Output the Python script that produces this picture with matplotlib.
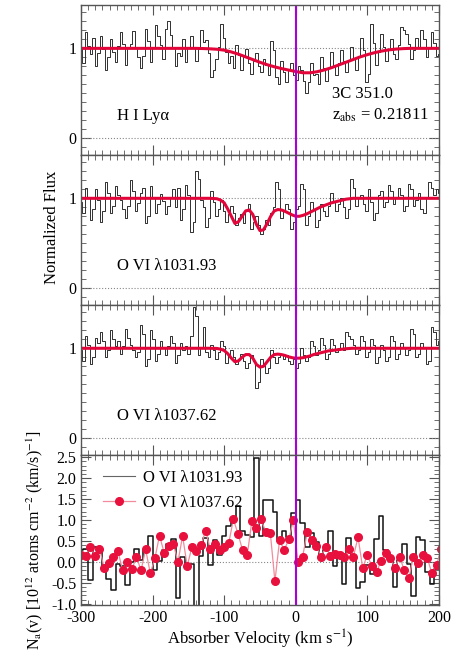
import numpy as np
import matplotlib
matplotlib.use("Agg")
from matplotlib import pyplot as plt
from matplotlib.ticker import MultipleLocator, FixedLocator, FormatStrFormatter

plt.rcParams['font.family'] = ['Liberation Serif', 'DejaVu Serif']
plt.rcParams['mathtext.fontset'] = 'stix'
plt.rcParams['axes.unicode_minus'] = False

# 归一化流量谱 (3.5 km/s 一格, 从 -300 开始)
flux_v0, flux_dv = -300.0, 3.5
flux_hi = [1.00, 0.84, 1.18, 1.03, 0.94, 1.12, 0.80, 0.95, 1.14, 0.99, 0.76, 0.90, 1.10, 0.96, 0.85, 1.03, 1.18, 1.05, 0.82, 1.00,
           1.05, 1.19, 1.00, 0.90, 0.78, 0.92, 1.22, 1.08, 0.85, 1.00, 1.26, 1.14, 1.04, 0.88, 1.22, 1.30, 1.15, 1.02, 0.80, 0.95,
           0.92, 1.10, 0.85, 1.00, 1.14, 1.02, 0.86, 0.99, 1.20, 1.07, 1.09, 0.95, 0.68, 0.76, 0.88, 1.02, 1.27, 1.12, 0.96, 0.84,
           0.92, 0.78, 1.04, 0.93, 0.76, 0.90, 0.99, 0.84, 0.72, 0.86, 0.95, 0.80, 0.74, 0.88, 0.82, 0.70, 1.08, 0.98, 0.68, 0.60,
           0.86, 0.74, 0.62, 0.76, 0.84, 0.70, 0.65, 0.80, 0.76, 0.64, 0.50, 0.62, 0.84, 0.70, 0.72, 0.60, 0.90, 0.78, 0.64, 0.78,
           0.96, 0.80, 0.70, 0.84, 0.98, 0.86, 0.74, 0.86, 1.02, 0.88, 0.76, 0.92, 1.12, 0.98, 0.63, 0.72, 1.27, 1.06, 0.82, 0.96,
           1.16, 1.02, 0.86, 0.98, 1.10, 0.94, 0.88, 1.04, 1.24, 1.20, 1.16, 1.05, 0.88, 0.98, 1.12, 1.02, 1.21, 1.10, 0.90, 1.00,
           1.18, 1.06, 0.92, 0.94]
flux_1032 = [0.96, 0.84, 1.12, 1.00, 0.76, 0.88, 1.10, 0.98, 0.74, 0.86, 1.18, 1.06, 0.84, 0.92, 1.14, 1.04, 0.98, 0.88, 0.78, 0.92,
             1.20, 1.08, 0.86, 0.95, 1.06, 1.12, 0.72, 0.80, 1.14, 1.02, 0.84, 0.94, 1.05, 0.97, 0.82, 0.92, 1.02, 1.10, 0.90, 1.12,
             0.76, 0.88, 1.15, 1.04, 0.62, 0.74, 1.30, 1.22, 0.98, 0.90, 0.68, 0.78, 1.08, 0.96, 0.80, 0.88, 0.98, 0.86, 0.74, 0.82,
             0.92, 0.84, 0.70, 0.78, 0.82, 0.72, 0.86, 0.94, 0.66, 0.74, 0.80, 0.70, 0.60, 0.66, 0.76, 0.70, 0.84, 0.90, 1.18, 1.10,
             0.78, 0.86, 0.94, 0.88, 0.66, 0.74, 0.88, 0.92, 1.16, 1.10, 0.70, 0.80, 0.96, 0.88, 0.68, 0.76, 0.94, 0.86, 0.80, 0.92,
             1.06, 0.96, 0.86, 0.94, 1.00, 0.90, 0.78, 0.88, 1.22, 1.12, 0.92, 1.00, 1.04, 0.94, 0.86, 1.10, 0.96, 0.76, 0.84, 1.04,
             1.08, 0.90, 0.96, 1.15, 1.08, 0.94, 1.00, 1.12, 1.04, 0.86, 0.92, 1.16, 1.10, 0.92, 0.98, 1.06, 0.88, 0.84, 1.00, 1.18,
             1.12, 1.04, 1.10, 1.06]
flux_1038 = [0.98, 0.86, 1.14, 1.04, 0.82, 0.90, 1.12, 1.06, 1.18, 1.08, 0.90, 0.98, 1.20, 1.10, 1.02, 1.08, 0.94, 1.02, 1.22, 1.12,
             1.04, 0.98, 0.90, 0.96, 1.26, 1.16, 0.80, 0.88, 1.20, 1.10, 0.86, 0.94, 1.08, 1.00, 0.92, 1.02, 1.14, 1.06, 0.84, 0.92,
             1.06, 0.98, 1.02, 0.94, 1.14, 1.46, 1.36, 0.92, 1.00, 1.24, 0.96, 0.90, 1.04, 0.98, 0.88, 0.96, 1.08, 1.02, 0.84, 0.92,
             0.98, 0.90, 0.82, 0.88, 0.94, 0.86, 0.78, 0.84, 0.92, 0.86, 0.56, 0.62, 0.88, 0.82, 0.72, 0.78, 0.98, 0.90, 0.84, 0.90,
             0.94, 0.88, 0.92, 0.86, 0.82, 0.88, 0.78, 0.84, 1.00, 0.92, 0.86, 0.90, 1.08, 1.02, 0.92, 0.98, 1.12, 1.04, 0.88, 0.94,
             1.10, 1.04, 0.96, 1.00, 1.06, 0.98, 1.18, 1.14, 1.10, 1.04, 0.94, 0.98, 1.14, 1.08, 0.90, 0.96, 1.10, 1.04, 0.84, 0.90,
             1.04, 0.98, 0.86, 0.90, 1.14, 1.08, 0.88, 0.94, 1.06, 1.00, 0.92, 0.98, 1.22, 1.16, 0.90, 0.94, 1.06, 1.00, 0.82, 0.86,
             1.24, 1.18, 1.04, 1.08]

# 拟合曲线 (读图取点)
fit_hi_v = list(range(-300, 201, 10))
fit_hi = [1.0] * 17 + [0.998, 0.995, 0.99, 0.98, 0.96, 0.935, 0.905, 0.875, 0.845,
                       0.818, 0.795, 0.775, 0.758, 0.742, 0.728, 0.728, 0.74, 0.76,
                       0.785, 0.815, 0.845, 0.875, 0.905, 0.93, 0.952, 0.97, 0.983,
                       0.992, 0.997] + [1.0] * 5
fit_ovi_v = [-300] + list(range(-120, 81, 5)) + [200]
fit_1032 = [1.0, 1.0, 0.998, 0.995, 0.98, 0.95, 0.88, 0.80, 0.72, 0.74, 0.80, 0.86,
            0.87, 0.82, 0.71, 0.64, 0.65, 0.72, 0.80, 0.86, 0.875, 0.87, 0.855, 0.835,
            0.815, 0.80, 0.80, 0.81, 0.825, 0.845, 0.865, 0.885, 0.905, 0.92, 0.935,
            0.95, 0.96, 0.97, 0.98, 0.99, 0.995, 1.0, 1.0]
fit_1038 = [1.0, 1.0, 0.999, 0.998, 0.99, 0.975, 0.94, 0.89, 0.85, 0.86, 0.90, 0.93,
            0.93, 0.89, 0.82, 0.79, 0.80, 0.85, 0.90, 0.93, 0.935, 0.93, 0.92, 0.905,
            0.895, 0.89, 0.89, 0.895, 0.905, 0.915, 0.93, 0.94, 0.95, 0.96, 0.97,
            0.975, 0.98, 0.985, 0.99, 0.995, 0.998, 1.0, 1.0]

# 视柱密度 Na(v), 单位 10^12 atoms cm^-2 (km/s)^-1
na_v0, na_dv = -300.0, 6.45
na_1032 = [0.28, 0.30, -0.43, 0.36, 0.28, -0.10, -0.41, -0.66, -0.06, -0.10, -0.54,
           0.00, 0.32, 0.05, 0.28, 0.63, -0.20, 0.02, 0.28, 0.44, 0.55, -0.87, 0.13,
           -0.10, -0.05, -1.20, 0.15, 0.58, -0.08, 0.52, 0.17, 0.63, 0.86, 1.05, 1.34,
           0.75, 0.65, 0.60, 2.48, 0.63, 1.48, 1.48, 1.20, 0.52, 0.75, 0.60, 1.17,
           1.48, 0.94, 0.36, 0.68, 0.47, 0.12, 0.28, 0.75, -0.10, 0.18, -0.52, 0.58,
           0.13, -0.62, -0.48, -0.08, -0.29, 0.55, 1.09, 0.28, 0.13, -0.60, 0.05,
           0.42, -0.06, -0.82, 0.60, 0.52, -0.25, -0.52, -0.18, -0.18]
na_1038 = [0.17, 0.15, 0.36, 0.15, 0.32, -0.14, -0.02, 0.12, 0.25, -0.19,
           0.01, -0.18, 0.12, -0.20, 0.30, -0.27, 0.09, 0.63, 0.22, 0.38,
           0.42, 0.01, 0.62, -0.10, 0.35, 0.27, 0.40, 0.75, 0.30, 0.44,
           0.28, 0.36, 0.45, 1.02, 0.67, 0.28, 0.16, 0.98, 0.81, 1.02,
           0.72, 0.69, -0.46, 0.52, 0.28, 0.54, 1.00, 0.00, 0.13, 0.71,
           0.53, 0.38, 0.12, 0.36, 0.15, 0.19, 0.16, 0.13, 0.30, 0.13,
           0.59, -0.14, 0.16, -0.10, -0.25, 0.03, 0.22, 0.09, -0.14, 0.12,
           -0.19, -0.39, 0.13, -0.02, 0.16, 0.09, -0.27, -0.07, 0.31]

line_labels = ["H I Ly\u03b1", "O VI \u03bb1031.93", "O VI \u03bb1037.62"]

fv = flux_v0 + flux_dv * np.arange(len(flux_hi))
nv = na_v0 + na_dv * np.arange(len(na_1032))

fit_red = '#E3063A'
vline_col = '#A800D8'
hist_col = '#303030'
frame_col = '#555555'

fig = plt.figure(figsize=(4.63, 6.57), dpi=100)
gs = fig.add_gridspec(4, 1, left=0.175, right=0.948, bottom=0.079, top=0.992, hspace=0)
axes = [fig.add_subplot(gs[i]) for i in range(4)]


def style_axis(ax):
    ax.set_xlim(-300, 200)
    ax.xaxis.set_major_locator(MultipleLocator(100))
    ax.xaxis.set_minor_locator(MultipleLocator(10))
    ax.tick_params(which='both', direction='in', top=True, right=True,
                   color=frame_col, labelsize=11.5)
    ax.tick_params(which='major', length=7, width=0.8)
    ax.tick_params(which='minor', length=3.5, width=0.6)
    for sp in ax.spines.values():
        sp.set_color(frame_col)
        sp.set_linewidth(1.0)


flux_sets = [(flux_hi, fit_hi_v, fit_hi), (flux_1032, fit_ovi_v, fit_1032),
             (flux_1038, fit_ovi_v, fit_1038)]
for i, (fl, fitv, fit) in enumerate(flux_sets):
    ax = axes[i]
    style_axis(ax)
    ax.axhline(1, color='#888888', ls=':', lw=0.8)
    ax.axhline(0, color='#888888', ls=':', lw=0.8)
    ax.step(fv, fl, where='mid', color=hist_col, lw=0.7)
    ax.plot(fitv, fit, color=fit_red, lw=2.2)
    ax.axvline(0, color=vline_col, lw=1.5)
    ax.set_ylim(-0.19, 1.48)
    ax.yaxis.set_major_locator(FixedLocator([0, 1]))
    ax.yaxis.set_minor_locator(MultipleLocator(0.1))
    ax.set_yticklabels(['0', '1'])
    ax.tick_params(labelbottom=False)
    ax.text(-250, 0.25, line_labels[i], fontsize=12, va='center')

axes[0].text(50, 0.49, "3C 351.0", fontsize=12, ha='left', va='center')
axes[0].text(50, 0.25, "z$_{\\rm abs}$ = 0.21811", fontsize=12, ha='left', va='center')

ax = axes[3]
style_axis(ax)
ax.axhline(0, color='#888888', ls=':', lw=0.8)
ax.step(nv, na_1032, where='mid', color='#111111', lw=1.1, label=line_labels[1])
ax.plot(nv, na_1038, color='#F28C9C', lw=0.9, marker='o', ms=5.5,
        mfc='#E8103C', mec='#E8103C', label=line_labels[2])
ax.axvline(0, color=vline_col, lw=1.5)
ax.set_ylim(-1.03, 2.55)
ax.yaxis.set_major_locator(MultipleLocator(0.5))
ax.yaxis.set_minor_locator(MultipleLocator(0.1))
ax.yaxis.set_major_formatter(FormatStrFormatter('%.1f'))
ax.set_xlabel("Absorber Velocity (km s$^{-1}$)", fontsize=12, labelpad=1)
leg = ax.legend(loc='upper left', bbox_to_anchor=(0.02, 1.0), frameon=False,
                fontsize=12, handlelength=1.9, handletextpad=0.5, labelspacing=0.55)
leg.get_lines()[0].set_color('#666666')
leg.get_lines()[0].set_linewidth(0.8)

fig.text(0.112, 0.654, "Normalized Flux", rotation=90, ha='center', va='center', fontsize=12)
fig.text(0.076, 0.178, "N$_{\\rm a}$(v) [10$^{12}$ atoms cm$^{-2}$ (km/s)$^{-1}$]",
         rotation=90, ha='center', va='center', fontsize=11.5)

plt.savefig('out.png', dpi=100)
